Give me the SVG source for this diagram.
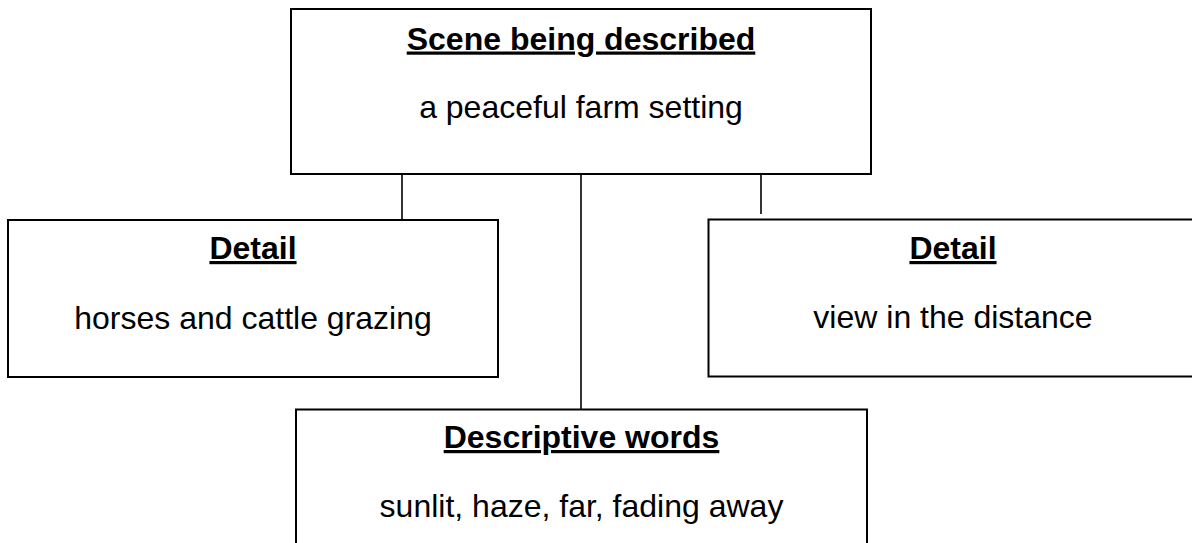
<svg xmlns="http://www.w3.org/2000/svg" width="1192" height="543" viewBox="0 0 1192 543">
<style>
.box{fill:#fff;stroke:#000;stroke-width:2}
.conn line{stroke:#000;stroke-width:1.6}
.h{font-family:"Liberation Sans",Arial,sans-serif;font-size:32px;font-weight:bold;text-anchor:middle;text-decoration:underline;fill:#000}
.b{font-family:"Liberation Sans",Arial,sans-serif;font-size:32px;text-anchor:middle;fill:#000}
</style>
<rect width="1192" height="543" fill="#fff"/>
<g id="connectors" class="conn">
<line x1="402" y1="174" x2="402" y2="220"/>
<line x1="581" y1="174" x2="581" y2="409"/>
<line x1="761" y1="174" x2="761" y2="214"/>
</g>
<g id="scene">
<rect class="box" x="291" y="9" width="580" height="165"/>
<text class="h" x="581" y="49.5">Scene being described</text>
<text class="b" x="581" y="118">a peaceful farm setting</text>
</g>
<g id="detail-left">
<rect class="box" x="8" y="220" width="490" height="157"/>
<text class="h" x="253" y="259">Detail</text>
<text class="b" x="253" y="329">horses and cattle grazing</text>
</g>
<g id="detail-right">
<rect class="box" x="708.5" y="219.5" width="490" height="157"/>
<text class="h" x="953" y="259">Detail</text>
<text class="b" x="953" y="328">view in the distance</text>
</g>
<g id="words">
<rect class="box" x="296" y="409.5" width="571" height="150"/>
<text class="h" x="581.5" y="448">Descriptive words</text>
<text class="b" x="581.5" y="517">sunlit, haze, far, fading away</text>
</g>
</svg>
